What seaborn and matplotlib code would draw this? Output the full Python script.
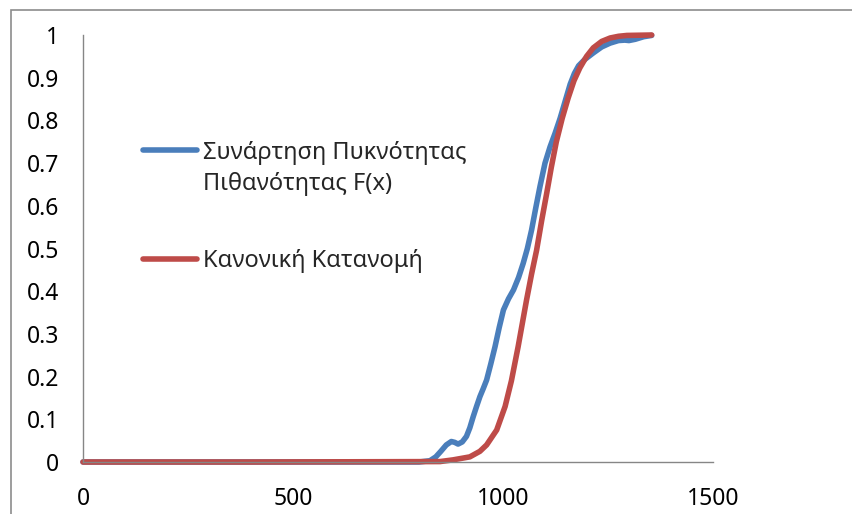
import matplotlib
matplotlib.use("Agg")
import matplotlib.pyplot as plt
from matplotlib.patches import Rectangle
from matplotlib.legend_handler import HandlerLine2D
import seaborn as sns
import pandas as pd
import numpy as np

# Δεδομένα (διαβασμένα από το γράφημα)
blue_label = "Συνάρτηση Πυκνότητας\nΠιθανότητας F(x)"
blue_x = [0, 400, 800, 826, 840, 852, 865, 877, 885, 893, 903, 913, 921, 929, 937, 945,
          953, 961, 971, 981, 991, 1001, 1013, 1025, 1037, 1048, 1058, 1068, 1078, 1088,
          1100, 1112, 1124, 1136, 1148, 1160, 1170, 1180, 1195, 1215, 1235, 1255, 1275,
          1290, 1300, 1315, 1335, 1354]
blue_y = [0, 0, 0, 0.003, 0.012, 0.025, 0.04, 0.048, 0.046, 0.042, 0.047, 0.06, 0.08, 0.106,
          0.13, 0.153, 0.172, 0.192, 0.23, 0.27, 0.315, 0.356, 0.382, 0.403, 0.432, 0.465,
          0.5, 0.543, 0.595, 0.645, 0.70, 0.738, 0.77, 0.805, 0.845, 0.885, 0.91, 0.928,
          0.943, 0.958, 0.972, 0.981, 0.987, 0.988, 0.987, 0.99, 0.996, 0.999]

red_label = "Κανονική Κατανομή"
red_x = [0, 400, 850, 881, 921, 945, 961, 985, 1005, 1020, 1036, 1056, 1068, 1080, 1092,
         1104, 1115, 1127, 1141, 1155, 1169, 1183, 1199, 1215, 1235, 1255, 1275, 1295, 1354]
red_y = [0, 0, 0.001, 0.005, 0.012, 0.025, 0.04, 0.075, 0.13, 0.19, 0.27, 0.379, 0.44, 0.496,
         0.565, 0.629, 0.69, 0.75, 0.805, 0.852, 0.893, 0.923, 0.95, 0.97, 0.985, 0.993,
         0.997, 0.999, 1.0]

x_ticks = [0, 500, 1000, 1500]
y_ticks = [0, 0.1, 0.2, 0.3, 0.4, 0.5, 0.6, 0.7, 0.8, 0.9, 1]
y_tick_labels = ["0", "0.1", "0.2", "0.3", "0.4", "0.5", "0.6", "0.7", "0.8", "0.9", "1"]

df_blue = pd.DataFrame({"x": blue_x, "y": blue_y})
df_red = pd.DataFrame({"x": red_x, "y": red_y})


class ShiftedLine(HandlerLine2D):
    # γραμμή υπομνήματος στο ύψος της πρώτης γραμμής του κειμένου
    def __init__(self, dy, **kw):
        super().__init__(**kw)
        self.dy = dy

    def create_artists(self, legend, orig_handle, xdescent, ydescent, width, height,
                       fontsize, trans):
        artists = super().create_artists(legend, orig_handle, xdescent, ydescent,
                                         width, height, fontsize, trans)
        for a in artists:
            a.set_ydata(np.asarray(a.get_ydata(), dtype=float) + self.dy)
        return artists


sns.set_style("white")
plt.rcParams["font.family"] = ["Noto Sans", "DejaVu Sans"]

grey = "#868686"
fig = plt.figure(figsize=(8.52, 5.14), dpi=100)
ax = fig.add_axes([83 / 852, 1 - 462 / 514, 630 / 852, 427 / 514])

sns.lineplot(data=df_blue, x="x", y="y", ax=ax, color="#4A7EBB", linewidth=4.0,
             label=blue_label, clip_on=False, solid_capstyle="round", solid_joinstyle="round")
sns.lineplot(data=df_red, x="x", y="y", ax=ax, color="#BE4B48", linewidth=4.0,
             label=red_label, clip_on=False, solid_capstyle="round", solid_joinstyle="round")

ax.set_xlim(0, 1500)
ax.set_ylim(0, 1)
ax.set_xticks(x_ticks)
ax.set_xticklabels([str(v) for v in x_ticks])
ax.set_yticks(y_ticks)
ax.set_yticklabels(y_tick_labels)
ax.set_xlabel("")
ax.set_ylabel("")

for s in ["top", "right"]:
    ax.spines[s].set_visible(False)
for s in ["left", "bottom"]:
    ax.spines[s].set_color(grey)
    ax.spines[s].set_linewidth(1.0)
ax.tick_params(axis="both", direction="out", length=6, width=1.0, color=grey,
               labelsize=16.5, labelcolor="black")
ax.tick_params(axis="y", pad=11)
ax.tick_params(axis="x", pad=12)
ax.grid(False)

handles, labels = ax.get_legend_handles_labels()
leg = ax.legend(handles, labels, loc="upper left",
                bbox_to_anchor=(60 / 630, (462 - 141) / 427),
                frameon=False, fontsize=17, handlelength=2.3, handletextpad=0.25,
                labelspacing=2.25, borderpad=0, borderaxespad=0,
                handler_map={handles[0]: ShiftedLine(14)})
for t in leg.get_texts():
    t.set_linespacing(1.4)
for h in leg.get_lines():
    h.set_linewidth(4.0)

# περίγραμμα γραφήματος (κομμένο δεξιά και κάτω)
fig.add_artist(Rectangle((11 / 852, -0.1), 1.2, 1 - 10 / 514 + 0.1, transform=fig.transFigure,
                         fill=False, edgecolor="#8c8c8c", linewidth=1.2))

fig.savefig("out.png", dpi=100)
